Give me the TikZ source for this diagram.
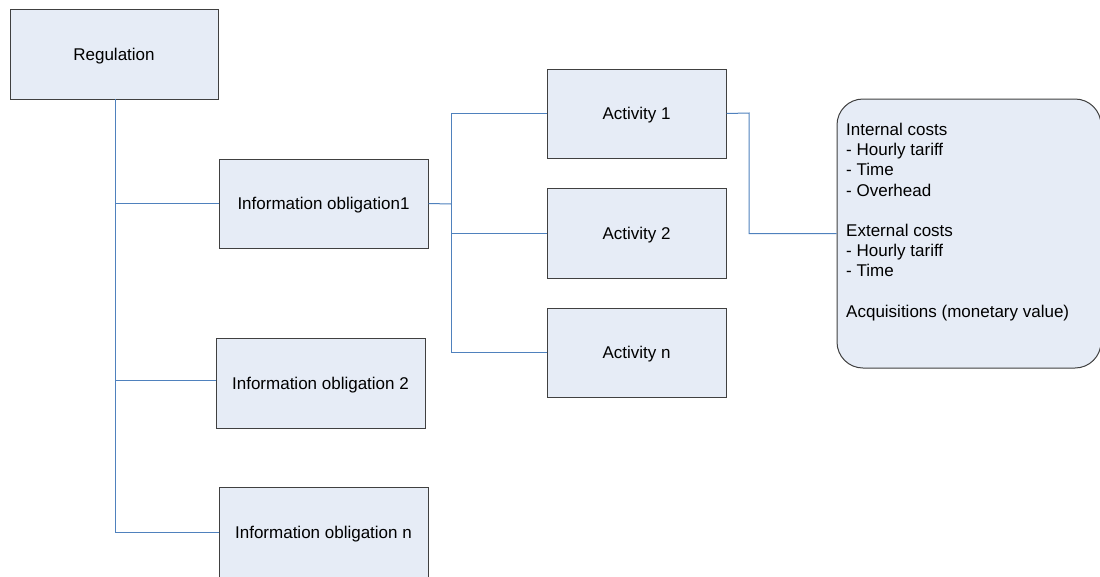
\documentclass[tikz,border=0pt]{standalone}
\usepackage{fontspec}
\setmainfont{Liberation Sans}
\definecolor{boxfill}{HTML}{E6ECF6}
\definecolor{boxdraw}{HTML}{404040}
\definecolor{linkblue}{HTML}{4F81BD}
\begin{document}
\begin{tikzpicture}[x=1pt,y=-1pt,
  every node/.style={font=\fontsize{17}{20.2}\selectfont},
  obox/.style={draw=boxdraw, fill=boxfill, line width=1pt, inner sep=0pt},
  lbox/.style={obox, text depth=0pt},
  link/.style={draw=linkblue, line width=1pt}]
\useasboundingbox (0,0) rectangle (1100,576);
\clip (0,0) rectangle (1100,576);
% boxes
\node[lbox, minimum width=208pt, minimum height=90pt] (reg) at (114,54) {Regulation};
\node[lbox, minimum width=209pt, minimum height=89pt] (io1) at (323.5,203.5) {Information obligation1};
\node[lbox, minimum width=209pt, minimum height=90pt] (io2) at (320.5,383) {Information obligation 2};
\node[lbox, minimum width=209pt, minimum height=90pt] (ion) at (323.5,532) {Information obligation n};
\node[lbox, minimum width=179pt, minimum height=89pt] (a1) at (636.5,113.5) {Activity 1};
\node[lbox, minimum width=179pt, minimum height=90pt] (a2) at (636.5,233) {Activity 2};
\node[lbox, minimum width=179pt, minimum height=89pt] (an) at (636.5,352.5) {Activity n};
\node[obox, rounded corners=26pt, minimum width=264pt, minimum height=269pt] (costs) at (969,233.5) {};
\node[anchor=north west, align=left, inner sep=0pt] (coststext) at (846,123)
  {Internal costs\\- Hourly tariff\\- Time\\- Overhead\\[20.2pt]External costs\\- Hourly tariff\\- Time\\[20.2pt]Acquisitions (monetary value)};
% connectors
\coordinate (trunk) at (115,99);
\coordinate (bus) at (451,204);
\coordinate (elbow) at (749,113);
\draw[link] (trunk) -- (trunk |- ion.west);
\draw[link] (trunk |- io1.west) -- (io1.west);
\draw[link] (115,380) -- (io2.west |- 0,380);
\draw[link] (trunk |- ion.west) -- (ion.west);
\draw[link] (io1.east) -- (bus);
\draw[link] (bus |- a1.west) -- (bus |- an.west);
\draw[link] (bus |- a1.west) -- (a1.west);
\draw[link] (bus |- a2.west) -- (a2.west);
\draw[link] (bus |- an.west) -- (an.west);
\draw[link] (a1.east) -- (elbow) |- (costs.west);
\end{tikzpicture}
\end{document}
